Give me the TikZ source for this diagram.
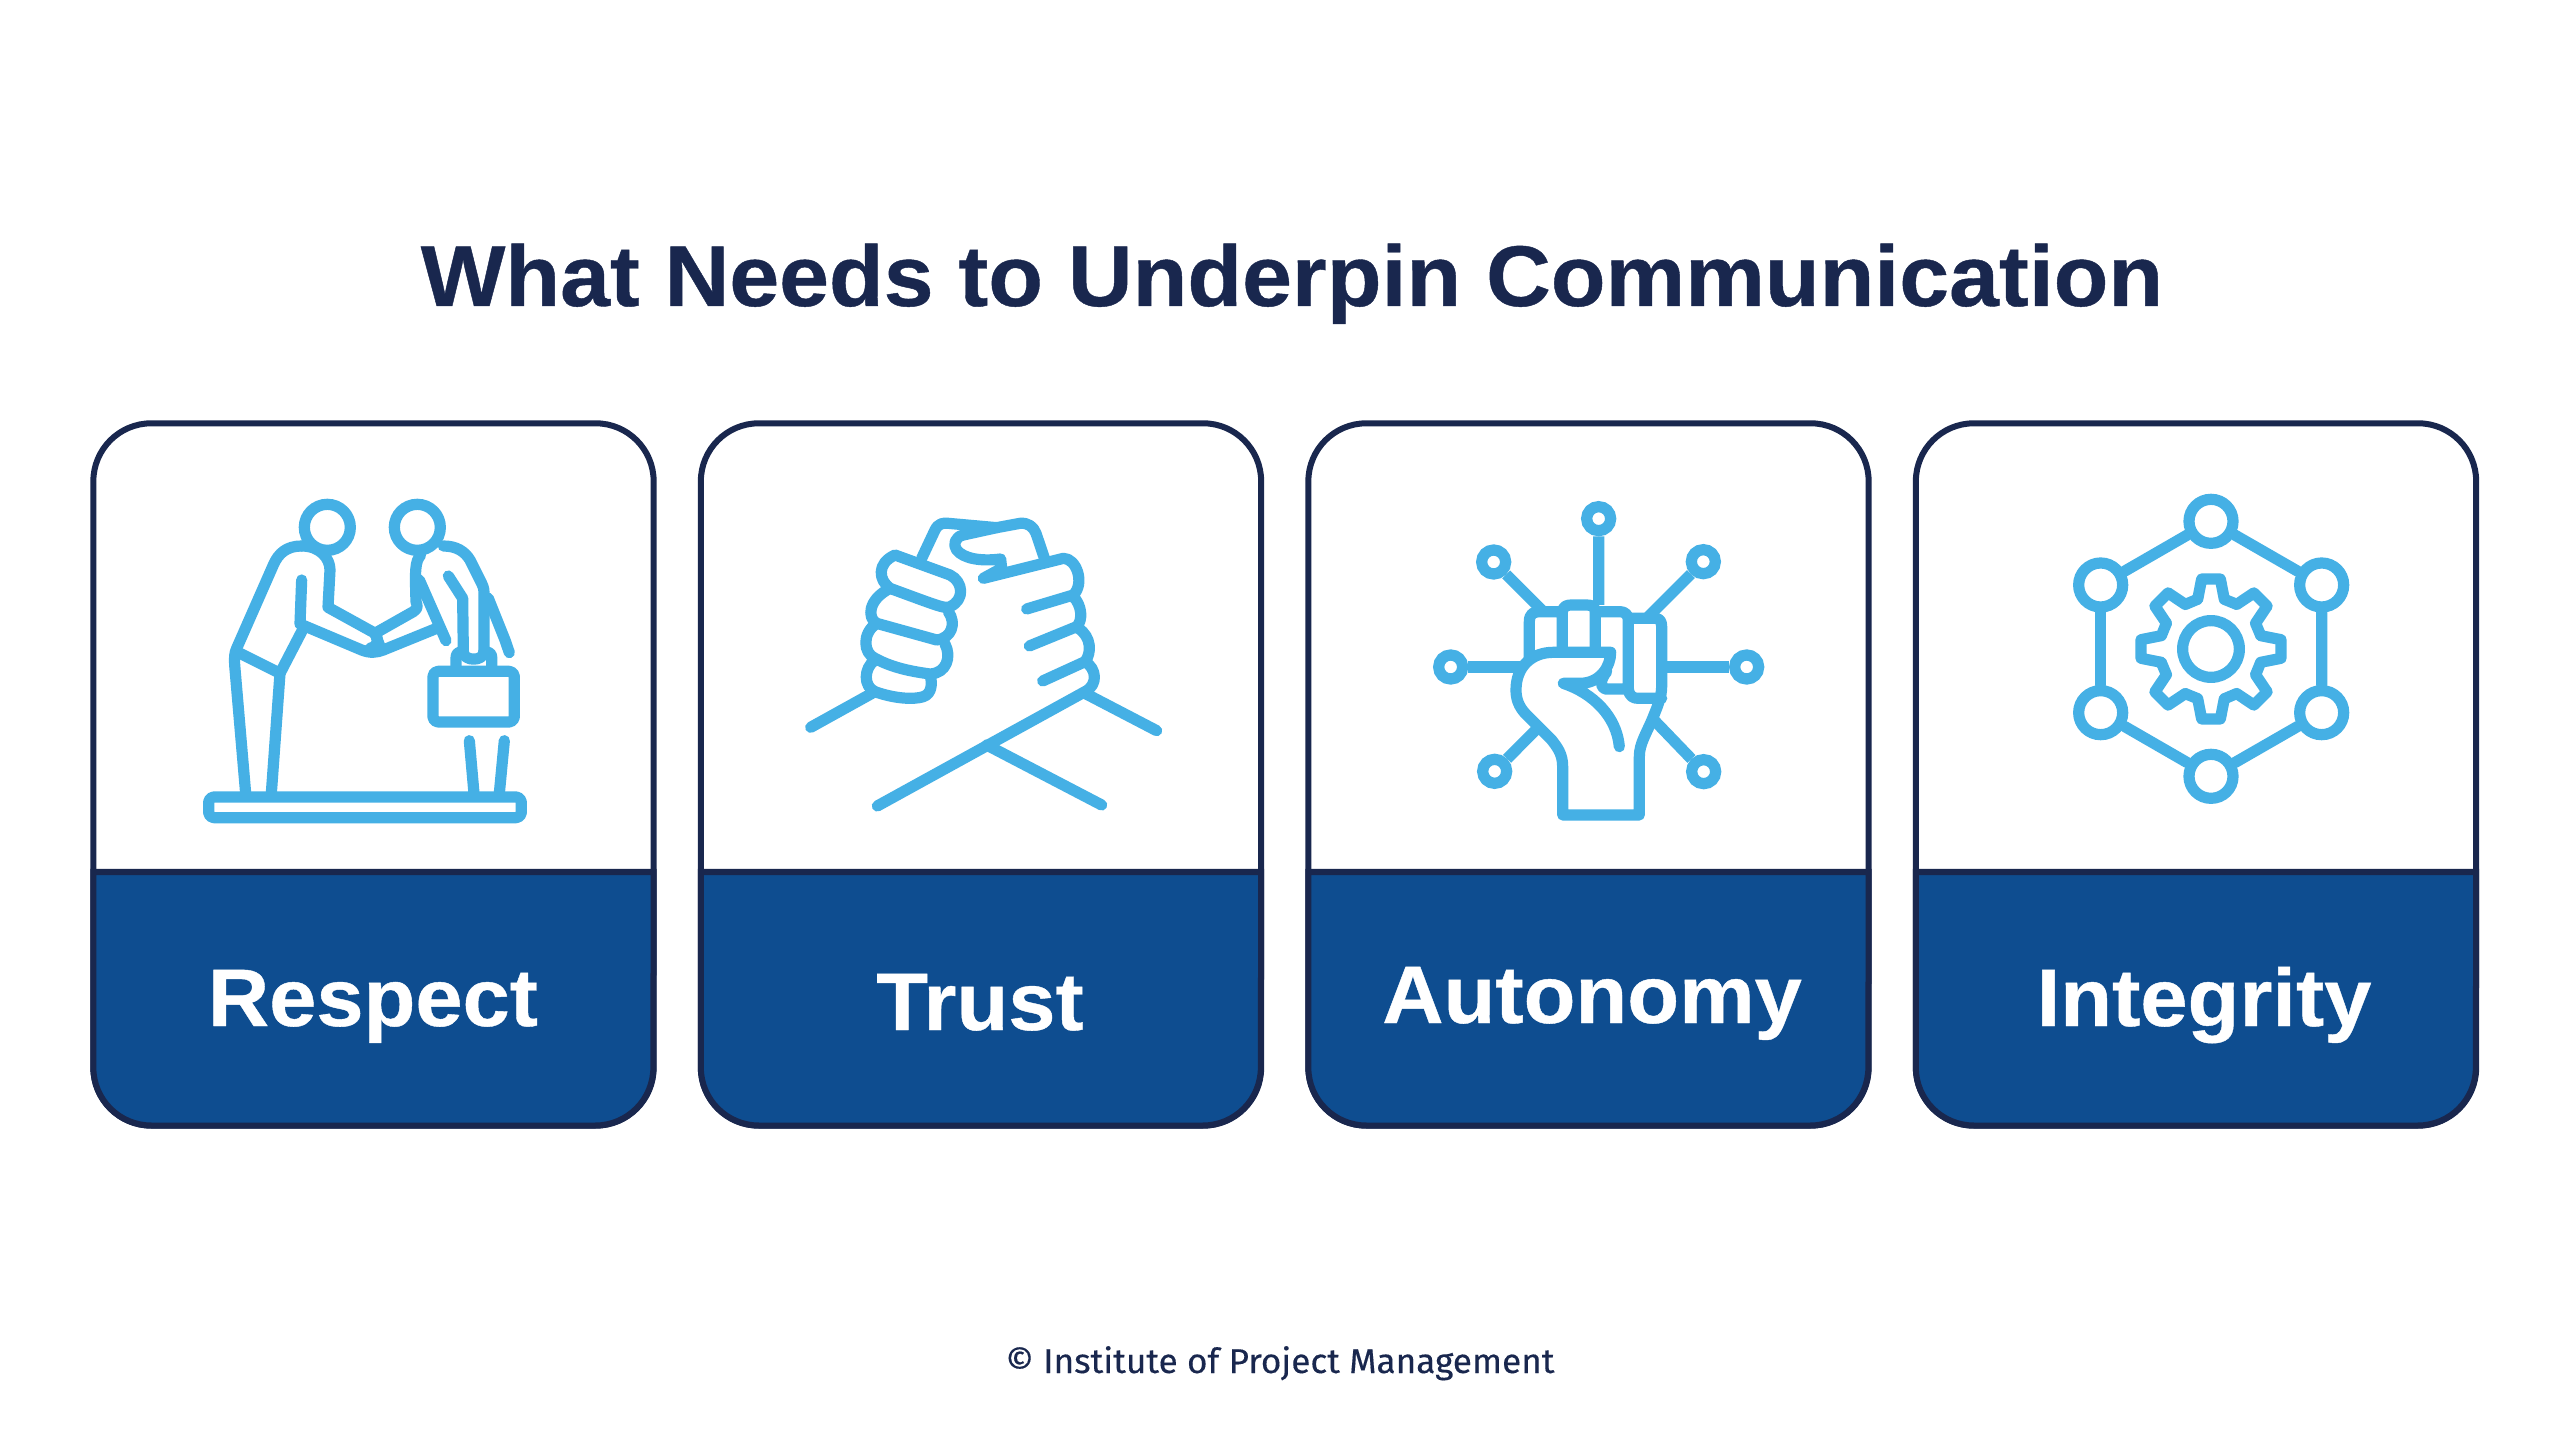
\documentclass[tikz,border=0pt]{standalone}
\usepackage{fontspec}
\setmainfont{Liberation Sans}[BoldFeatures={FakeStretch=1.04,FakeBold=.5}]
\newfontfamily\footfont[FakeBold=.3,FakeStretch=1.02]{Fira Sans}
\definecolor{navyline}{HTML}{19274E}
\definecolor{cardblue}{HTML}{0E4D90}
\definecolor{iconblue}{HTML}{45B0E5}
\tikzset{
  cardbox/.style={draw=navyline,line width=.06cm,fill=white,rounded corners=.58cm,minimum width=5.6cm,minimum height=7.02cm,inner sep=0,outer sep=0},
  cardlow/.style={draw=navyline,line width=.06cm,fill=cardblue},
  cardtext/.style={text=white,font=\fontsize{23.2}{28}\selectfont\bfseries,anchor=base,inner sep=0},
  iconline/.style={draw=iconblue,line width=.112cm,line cap=round,line join=round},
  ring/.style={circle,draw=iconblue,line width=.112cm,fill=white,inner sep=0}
}
\begin{document}
\begin{tikzpicture}[x=.01cm,y=-.01cm]
  \useasboundingbox (0,0) rectangle (2560,1440);
  \node[text=navyline,font=\fontsize{24.5}{29}\selectfont\bfseries,anchor=base,inner sep=0] (title) at (1292,306) {What Needs to Underpin Communication};
  \node[text=navyline,font=\fontsize{9.8}{12}\footfont,anchor=base,inner sep=0] (credit) at (1280,1373) {© Institute of Project Management};

  \foreach \n/\cx/\word/\tx/\ty in {1/373.5/Respect/373/1026,2/981/Trust/980/1030,3/1588.5/Autonomy/1592/1023,4/2196/Integrity/2204/1026}
  {
    \node[cardbox] (card\n) at (\cx,774.5) {};
    \draw[cardlow] (card\n.west |- 0,872) -- ++(0,195.5) arc[start angle=180,end angle=90,radius=58] -- ++(444,0) arc[start angle=90,end angle=0,radius=58] -- (card\n.east |- 0,872) -- cycle;
    \node[cardtext] (word\n) at (\tx,\ty) {\word};
  }

  % people shaking hands
  \begin{scope}[shift={(180,470)},scale=1/3]
    \node[ring,minimum size=.46cm] (headl) at (442,172) {};
    \node[ring,minimum size=.46cm] (headr) at (712,172) {};
    \draw[iconline,rounded corners=.05cm] (86,981) rectangle (1024,1043);
    \draw[iconline] (365,228) .. controls (320,228) and (295,250) .. (280,285) -- (170,535) .. controls (163,550) and (163,565) .. (164,585) -- (197,970);
    \draw[iconline] (365,228) .. controls (420,228) and (450,265) .. (450,300) -- (444,412) -- (580,487) .. controls (600,500) and (595,530) .. (570,535);
    \draw[iconline] (365,330) -- (360,462) -- (545,540) .. controls (570,550) and (590,548) .. (610,540) -- (770,475);
    \draw[iconline] (180,550) -- (300,610) -- (274,970);
    \draw[iconline] (300,610) -- (370,475);
    \draw[iconline] (790,228) .. controls (830,228) and (855,245) .. (870,270) -- (905,340) .. controls (912,355) and (912,360) .. (912,375) -- (912,545);
    \draw[iconline] (805,318) -- (848,385) -- (850,545) .. controls (850,575) and (912,575) .. (912,545);
    \draw[iconline] (722,255) .. controls (705,275) and (705,300) .. (708,395) .. controls (712,408) and (715,415) .. (700,425) -- (585,490) -- (600,530);
    \draw[iconline] (718,330) -- (798,512);
    \draw[iconline] (925,385) -- (975,510) -- (988,548);
    \draw[iconline,rounded corners=.05cm] (759,604) rectangle (1003,756);
    \draw[iconline] (828,604) -- (828,565) .. controls (828,550) and (835,545) .. (850,545);
    \draw[iconline] (935,604) -- (935,560) .. controls (935,550) and (925,545) .. (912,545);
    \draw[iconline] (868,812) -- (882,970);
    \draw[iconline] (973,812) -- (958,970);
  \end{scope}

  % clasped arms
  \begin{scope}[shift={(780,490)},scale=1/3]
    \draw[iconline] (92,712) -- (285,605);
    \draw[iconline] (292,948) -- (915,605) .. controls (955,585) and (950,535) .. (915,515) -- (788,573);
    \draw[iconline] (620,765) -- (965,945);
    \draw[iconline] (915,610) -- (1130,722);
    \draw[iconline] (345,195) -- (510,255) .. controls (550,275) and (555,330) .. (510,350) .. controls (495,357) and (480,350) .. (330,295) .. controls (295,270) and (290,220) .. (345,195);
    \draw[iconline] (330,295) .. controls (262,330) and (262,385) .. (290,400) -- (470,450) .. controls (515,445) and (530,400) .. (505,365);
    \draw[iconline] (290,400) .. controls (245,430) and (250,490) .. (285,505) .. controls (340,535) and (400,545) .. (450,552) .. controls (500,550) and (515,500) .. (495,462);
    \draw[iconline] (285,510) .. controls (250,535) and (250,590) .. (285,605) .. controls (340,625) and (400,630) .. (430,620) .. controls (455,612) and (458,580) .. (450,555);
    \draw[iconline] (425,205) -- (465,120) .. controls (475,100) and (490,98) .. (505,100) -- (650,113) -- (720,100) .. controls (745,98) and (760,110) .. (768,130) -- (795,210);
    \draw[iconline] (650,113) -- (550,135) .. controls (525,140) and (518,165) .. (530,180) .. controls (550,205) and (600,215) .. (662,207) -- (665,235) -- (610,265) -- (850,205) .. controls (890,205) and (915,280) .. (880,315) -- (740,357);
    \draw[iconline] (880,320) .. controls (905,345) and (910,390) .. (890,410) -- (748,468);
    \draw[iconline] (895,415) .. controls (935,440) and (935,490) .. (915,515);
  \end{scope}

  % raised fist
  \begin{scope}[shift={(1420,490)},scale=1/3]
    \node[ring,minimum size=.24cm] (spk1) at (536,86) {};
    \node[ring,minimum size=.24cm] (spk2) at (221,216) {};
    \node[ring,minimum size=.24cm] (spk3) at (850,215) {};
    \node[ring,minimum size=.24cm] (spk4) at (92,531) {};
    \node[ring,minimum size=.24cm] (spk5) at (980,531) {};
    \node[ring,minimum size=.24cm] (spk6) at (224,844) {};
    \node[ring,minimum size=.24cm] (spk7) at (851,845) {};
    \coordinate (f1) at (536,345);
    \coordinate (f2) at (372,367);
    \coordinate (f3) at (685,380);
    \coordinate (f4) at (315,531);
    \coordinate (f5) at (725,531);
    \coordinate (f6) at (352,715);
    \coordinate (f7) at (695,683);
    \foreach \from/\to in {spk1/f1,spk2/f2,spk3/f3,spk4/f4,spk5/f5,spk6/f6,spk7/f7}
      \draw[iconline,line cap=butt] (\from) -- (\to);
    \draw[iconline] (328,505) -- (328,395) .. controls (328,372) and (340,365) .. (360,365) -- (427,365) -- (427,475);
    \draw[iconline] (427,365) .. controls (430,348) and (440,345) .. (455,345) -- (500,345) .. controls (515,345) and (526,350) .. (526,365) -- (526,475);
    \draw[iconline] (526,365) -- (600,365) .. controls (615,365) and (625,375) .. (625,390) -- (625,597) -- (555,597) .. controls (540,590) and (540,570) .. (560,545);
    \draw[iconline] (625,385) -- (705,385) .. controls (720,385) and (725,395) .. (725,410) -- (725,590) .. controls (725,620) and (712,650) .. (700,680) .. controls (680,730) and (658,760) .. (658,800) -- (658,975) -- (428,975) -- (428,830) .. controls (428,790) and (410,770) .. (395,750) -- (320,675) .. controls (295,650) and (288,625) .. (288,600) .. controls (288,530) and (335,487) .. (400,487) -- (572,487) .. controls (572,530) and (540,580) .. (480,580) -- (430,580) .. controls (520,610) and (590,680) .. (598,770);
    \draw[iconline] (625,597) .. controls (628,620) and (640,625) .. (655,625) -- (725,625);
  \end{scope}

  % gear in a ring of nodes
  \begin{scope}[shift={(2040,480)},scale=1/3]
    \node[ring,minimum size=.44cm] (n1) at (513,124) {};
    \node[ring,minimum size=.44cm] (n2) at (845,315) {};
    \node[ring,minimum size=.44cm] (n3) at (845,698) {};
    \node[ring,minimum size=.44cm] (n4) at (513,889) {};
    \node[ring,minimum size=.44cm] (n5) at (182,698) {};
    \node[ring,minimum size=.44cm] (n6) at (182,315) {};
    \foreach \from/\to in {n1/n2,n2/n3,n3/n4,n4/n5,n5/n6,n6/n1}
      \draw[iconline] (\from) -- (\to);
    \node[ring,minimum size=.567cm] (hub) at (513,507) {};
    \begin{scope}[shift={(513,507)}]
      \foreach \a in {0,45,...,315}
        \draw[iconline,rotate=\a] (-40,-149) -- (-28,-210) -- (28,-210) -- (40,-149) -- (77,-134);
    \end{scope}
  \end{scope}
\end{tikzpicture}
\end{document}
